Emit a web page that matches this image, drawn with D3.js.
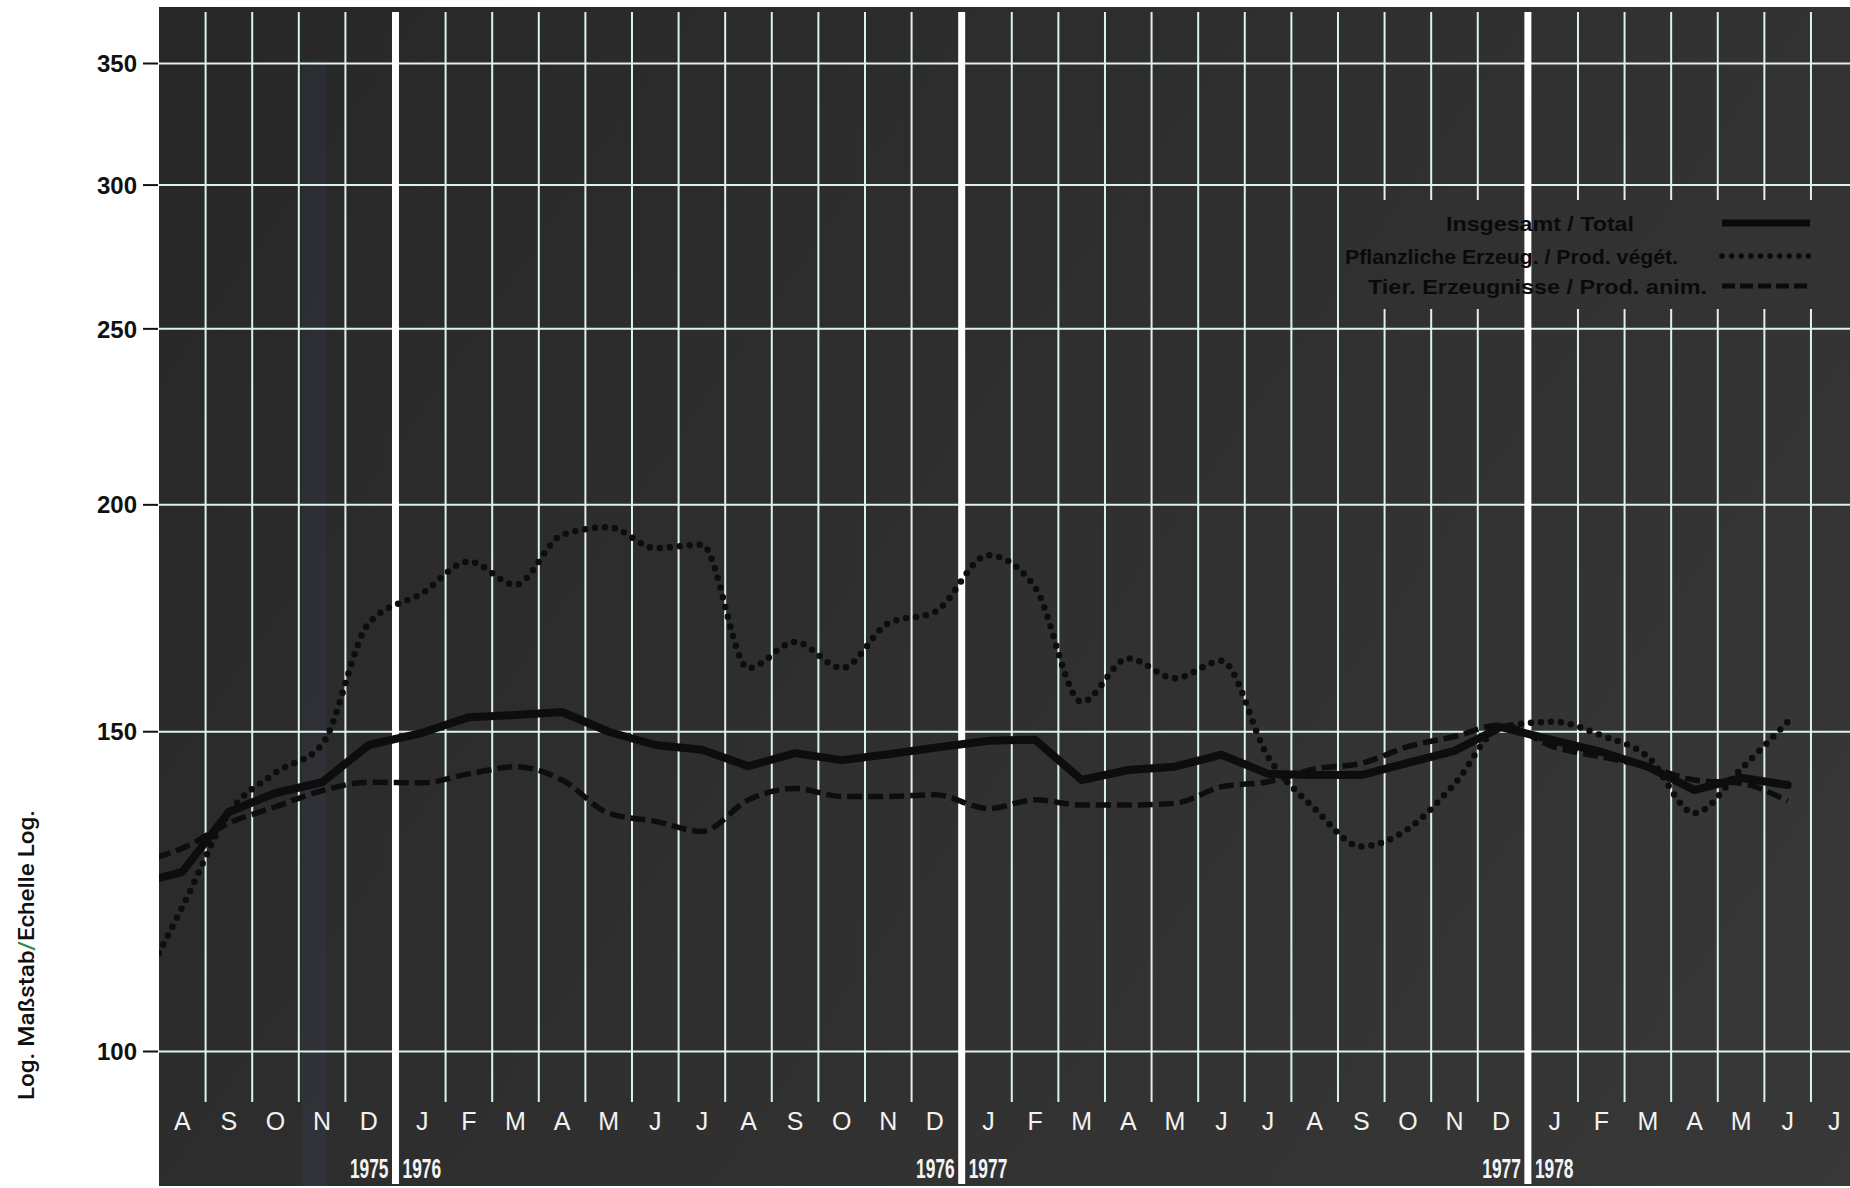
<!DOCTYPE html>
<html><head><meta charset="utf-8">
<script src="https://cdn.jsdelivr.net/npm/d3@7"></script>
<style>html,body{margin:0;padding:0;background:#fff;} svg{display:block;}</style>
</head><body>
<script>
// ---------- data ----------
const monthLabels = ["A","S","O","N","D","J","F","M","A","M","J","J","A","S","O","N","D","J","F","M","A","M","J","J","A","S","O","N","D","J","F","M","A","M","J","J"]; // Aug 1975 .. Jul 1978
const axisStart = "1975-08";
const yearBreaks = [{left:"1975", right:"1976"}, {left:"1976", right:"1977"}, {left:"1977", right:"1978"}];
const dataMonths = ["1975-07","1975-08","1975-09","1975-10","1975-11","1975-12",
  "1976-01","1976-02","1976-03","1976-04","1976-05","1976-06","1976-07","1976-08","1976-09","1976-10","1976-11","1976-12",
  "1977-01","1977-02","1977-03","1977-04","1977-05","1977-06","1977-07","1977-08","1977-09","1977-10","1977-11","1977-12",
  "1978-01","1978-02","1978-03","1978-04","1978-05","1978-06"];
const totalValues = [123.5,125.5,135.4,138.7,140.6,147.4,
  149.7,152.7,153.1,153.7,149.9,147.4,146.5,143.5,145.9,144.6,145.7,146.9,
  148.2,148.4,141.0,142.8,143.4,145.6,142.1,141.9,141.9,144.1,146.3,150.8,
  148.2,146.1,143.4,139.2,141.4,140.1];
const plantValues = [107,120,135.2,142.3,147.5,172,
  178.7,186,180.6,192.4,194.3,189.2,190,162.5,168,162.5,172,174.5,
  187.5,180,155.7,164.5,160.4,164,145.2,136,129.6,132.5,140.3,150.8,
  151.8,149.2,145.2,135.2,143,151.8];
const animalValues = [127,129.3,133.5,136.3,139.1,140.6,
  140.5,142.1,143.4,141,135.2,133.8,132.1,137.5,139.5,138.1,138.1,138.4,
  136,137.5,136.6,136.6,136.9,139.8,140.7,143,144,147.1,149,151.2,
  147,145.2,143.4,141,140.4,137.3];
const yTicks = [100,150,200,250,300,350];
const legendLabels = ["Insgesamt / Total","Pflanzliche Erzeug. / Prod. végét.","Tier. Erzeugnisse / Prod. anim."];
const axisTitleParts = ["Log. Maßstab", "/", "Echelle Log."];

// ---------- layout ----------
const W = 1850, H = 1188;
const plot = {left:159, top:7, right:1850, bottom:1186};
const monthW = 46.6, GAP = 0.15;

const svg = d3.select("body").append("svg").attr("width", W).attr("height", H)
  .style("font-family", "'Liberation Sans', Arial, sans-serif");

function monthIndex(s){ const [yy, mm] = s.split("-").map(Number); const [y0, m0] = axisStart.split("-").map(Number); return (yy - y0)*12 + (mm - m0); }
const breakIdx = yearBreaks.map(b => monthIndex(b.right + "-01"));
function slot(i, pos){ const crossed = breakIdx.filter(b => b <= i).length; return i + pos + GAP*crossed; }
function breakSlot(k){ const before = breakIdx.filter(b => b < k).length; return k + GAP*before + GAP/2; }

const x = d3.scaleLinear().domain([0, 1]).range([plot.left, plot.left + monthW]);
const y = d3.scaleLog().domain([100, 350]).range([1051, 63]);

// background
const defs = svg.append("defs");
const grad = defs.append("linearGradient").attr("id","bg").attr("gradientUnits","userSpaceOnUse")
  .attr("x1", plot.left).attr("y1", plot.top).attr("x2", plot.right).attr("y2", plot.bottom);
grad.append("stop").attr("offset","0").attr("stop-color","#272727");
grad.append("stop").attr("offset","1").attr("stop-color","#383838");
defs.append("clipPath").attr("id","clip").append("rect")
  .attr("x", plot.left).attr("y", plot.top).attr("width", plot.right-plot.left).attr("height", plot.bottom-plot.top);

svg.append("rect").attr("x", plot.left).attr("y", plot.top).attr("width", plot.right-plot.left).attr("height", plot.bottom-plot.top)
  .attr("fill", "url(#bg)");
// faint bluish scan streak
svg.append("rect").attr("x", 302).attr("y", 60).attr("width", 24).attr("height", plot.bottom-60)
  .attr("fill", "#6a6ac0").attr("opacity", 0.08);

// horizontal grid
const gridH = svg.append("g").attr("transform", `translate(${plot.left},0)`)
  .call(d3.axisLeft(y).tickValues(yTicks).tickSize(-(plot.right-plot.left)).tickFormat(""));
gridH.select(".domain").remove();
gridH.selectAll("line").attr("stroke", "#dcf2ec").attr("stroke-width", 2);

// thin vertical month lines
const thinIdx = d3.range(1, monthLabels.length).filter(k => !breakIdx.includes(k));
svg.append("g").selectAll("line").data(thinIdx).join("line")
  .attr("x1", k => x(slot(k,0))).attr("x2", k => x(slot(k,0)))
  .attr("y1", 12).attr("y2", 1102)
  .attr("stroke", "#dcf2ec").attr("stroke-width", 2);

// legend mask box (hides grid behind legend)
svg.append("rect").attr("x", 1341).attr("y", 200).attr("width", plot.right-1341).attr("height", 109)
  .attr("fill", "url(#bg)");

// thick year lines
svg.append("g").selectAll("line").data(breakIdx).join("line")
  .attr("x1", k => x(breakSlot(k))).attr("x2", k => x(breakSlot(k)))
  .attr("y1", 12).attr("y2", 1184)
  .attr("stroke", "#ffffff").attr("stroke-width", 7);

// y axis ticks & labels
const yAxis = svg.append("g").attr("transform", `translate(${plot.left-1},0)`)
  .call(d3.axisLeft(y).tickValues(yTicks).tickSize(15).tickPadding(6).tickFormat(d3.format("d")));
yAxis.select(".domain").remove();
yAxis.selectAll("line").attr("stroke", "#111").attr("stroke-width", 2);
yAxis.selectAll("text").attr("fill", "#111").attr("font-size", 24).attr("font-weight", "bold")
  .attr("font-family", "'Liberation Sans', Arial, sans-serif").attr("dy", "0.36em");

// axis title
const title = svg.append("text").attr("transform", "translate(34,1100) rotate(-90)")
  .attr("font-size", 22).attr("fill", "#111").attr("font-weight", 500)
  .style("font-family", "Roboto, 'Liberation Sans', sans-serif")
  .attr("textLength", 290).attr("lengthAdjust", "spacingAndGlyphs");
title.selectAll("tspan").data(axisTitleParts).join("tspan")
  .text(d => d).attr("fill", d => d === "/" ? "#2e8b3e" : "#111");

// month labels
svg.append("g").selectAll("text").data(monthLabels).join("text")
  .attr("x", (d,i) => x(slot(i,0.5))).attr("y", 1130)
  .attr("text-anchor", "middle").attr("font-size", 25).attr("fill", "#f2f2f2")
  .text(d => d);

// year labels (condensed via horizontal scaling)
const yl = svg.append("g").attr("fill", "#f4f4f4").attr("font-size", 28).attr("font-weight", "bold")
  .style("font-family", "'Liberation Sans', sans-serif");
yearBreaks.forEach((b, j) => {
  const bx = x(breakSlot(breakIdx[j]));
  yl.append("text").attr("transform", `translate(${bx - 7},1178) scale(0.62,1)`)
    .attr("text-anchor", "end").text(b.left);
  yl.append("text").attr("transform", `translate(${bx + 7},1178) scale(0.62,1)`)
    .attr("text-anchor", "start").text(b.right);
});

// series
const seriesDefs = [
  {values: animalValues, width: 5.5, dash: "15 6", cap: "butt", curve: d3.curveMonotoneX},
  {values: plantValues, width: 6.5, dash: "0 10", cap: "round", curve: d3.curveMonotoneX},
  {values: totalValues, width: 8, dash: null, cap: "round", curve: d3.curveLinear}
];
const gLines = svg.append("g").attr("clip-path", "url(#clip)");
seriesDefs.forEach(s => {
  const pts = dataMonths.map((m, j) => ({i: monthIndex(m), v: s.values[j]}));
  const line = d3.line().x(d => x(slot(d.i, 0.5))).y(d => y(d.v)).curve(s.curve);
  gLines.append("path").attr("d", line(pts)).attr("fill", "none")
    .attr("stroke", "#0d0d0d").attr("stroke-width", s.width)
    .attr("stroke-dasharray", s.dash).attr("stroke-linecap", s.cap).attr("stroke-linejoin", "round");
});

// legend
const legendRows = [
  {end: 1634, cy: 223, len: 188, width: 7, dash: null, cap: "butt"},
  {end: 1678, cy: 256, len: 333, width: 5.5, dash: "0 9.6", cap: "round"},
  {end: 1707, cy: 286, len: 339, width: 5, dash: "13 5", cap: "butt"}
];
const lg = svg.append("g");
legendLabels.forEach((lab, k) => {
  const r = legendRows[k];
  lg.append("text").attr("x", r.end).attr("y", r.cy + 7.5).attr("text-anchor", "end")
    .attr("font-size", 21).attr("font-weight", "bold").attr("fill", "#0a0a0a")
    .attr("textLength", r.len).attr("lengthAdjust", "spacingAndGlyphs").text(lab);
  lg.append("line").attr("x1", 1722).attr("x2", 1810).attr("y1", r.cy).attr("y2", r.cy)
    .attr("stroke", "#0a0a0a").attr("stroke-width", r.width)
    .attr("stroke-dasharray", r.dash).attr("stroke-linecap", r.cap);
});
</script>
</body></html>
